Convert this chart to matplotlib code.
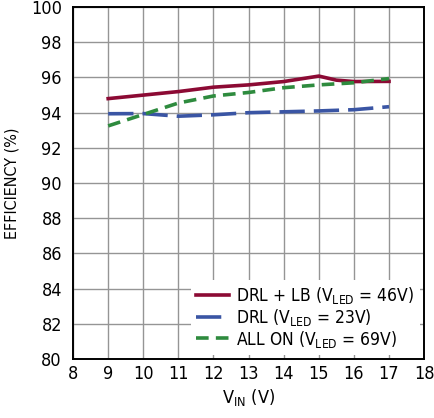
import matplotlib
matplotlib.use("Agg")
import matplotlib.pyplot as plt

plt.rcParams['font.family'] = ['DejaVu Sans']
plt.rcParams['font.stretch'] = 'condensed'
plt.rcParams['mathtext.fontset'] = 'custom'
plt.rcParams['mathtext.rm'] = 'DejaVu Sans:stretch=condensed'
plt.rcParams['mathtext.it'] = 'DejaVu Sans:stretch=condensed'

# input voltage
vin = [9, 10, 11, 12, 13, 14, 15, 15.5, 16, 17]
vin_b = [9, 10, 11, 12, 13, 14, 15, 16, 17]

# efficiency curves (%)
drl_lb = [94.8, 95.0, 95.2, 95.45, 95.58, 95.77, 96.08, 95.85, 95.77, 95.78]
drl = [93.94, 93.95, 93.8, 93.88, 94.0, 94.05, 94.1, 94.17, 94.34]
all_on = [93.25, 93.9, 94.55, 94.95, 95.15, 95.42, 95.58, 95.7, 95.94]

fig = plt.figure(figsize=(4.35, 4.18), dpi=100)
ax = fig.add_axes([0.168, 0.141, 0.807, 0.842])

ax.plot(vin, drl_lb, color='#8c0a34', lw=2.6, label=r'DRL + LB (V$_{\mathrm{LED}}$ = 46V)')
ax.plot(vin_b, drl, color='#3a55a4', lw=2.6, dashes=(7, 2.5),
        label=r'DRL (V$_{\mathrm{LED}}$ = 23V)')
ax.plot(vin_b, all_on, color='#2e8b3e', lw=2.6, dashes=(3.5, 2),
        label=r'ALL ON (V$_{\mathrm{LED}}$ = 69V)')

ax.set_xlim(8, 18)
ax.set_ylim(80, 100)
ax.set_xticks(range(8, 19))
ax.set_yticks(range(80, 101, 2))
ax.grid(True, color='#959595', lw=1)
ax.set_axisbelow(True)
ax.tick_params(direction='in', length=0, labelsize=13)
ax.tick_params(axis='y', pad=8)
ax.tick_params(axis='x', pad=4)
for s in ax.spines.values():
    s.set_linewidth(1.4)

ax.set_xlabel(r'V$_{\mathrm{IN}}$ (V)', fontsize=13, labelpad=3)
ax.set_ylabel('EFFICIENCY (%)', fontsize=11.5, labelpad=8)

leg = ax.legend(loc='lower right', frameon=True, fontsize=12.5, handlelength=1.9,
                borderaxespad=0.25, labelspacing=0.05, handletextpad=0.4,
                borderpad=0.3)
leg.get_frame().set_edgecolor('none')
leg.get_frame().set_facecolor('white')
leg.get_frame().set_alpha(1)

fig.savefig('out.png', dpi=100)
